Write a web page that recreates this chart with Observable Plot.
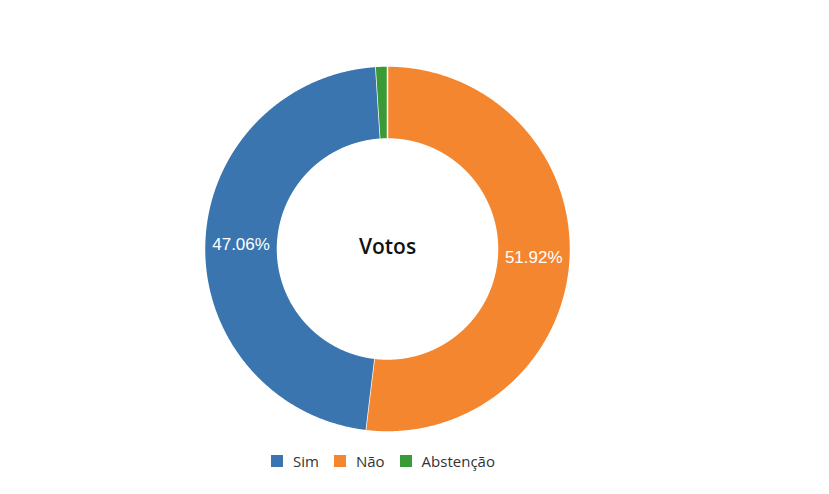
<!DOCTYPE html>
<html>
<head>
<meta charset="utf-8">
<script src="https://cdn.jsdelivr.net/npm/d3@7"></script>
<script src="https://cdn.jsdelivr.net/npm/@observablehq/plot@0.6"></script>
<style>
  body { margin: 0; background: #fff; font-family: "Open Sans", sans-serif; }
  #legend { width: 766px; height: 26px; display: flex; justify-content: center; align-items: center; font-size: 15px; color: #333; }
  .item { display: flex; align-items: center; margin: 0 7.5px; }
  .sw { width: 12px; height: 12px; margin-right: 10px; }
</style>
</head>
<body>
<div id="chart"></div>
<div id="legend"></div>
<script>
// Data
const categories = ["Sim", "Não", "Abstenção"];
const values = [47.06, 51.92, 1.02];
const colors = ["#3a75b0", "#f4862f", "#3a9a35"];
const sliceOrder = ["Não", "Sim", "Abstenção"]; // clockwise from 12 o'clock
const centerTitle = "Votos";

// Layout
const W = 829, H = 448;
const cx = 387, cy = 248.5, R = 183, r = 110;

const rows = sliceOrder.map(k => ({key: k, value: values[categories.indexOf(k)]}));
const arcs = d3.pie().sort(null).value(d => d.value)(rows);

const pts = [];
for (const a of arcs) {
  const n = Math.max(2, Math.ceil((a.endAngle - a.startAngle) / 0.005));
  for (let i = 0; i <= n; i++) {
    const t = a.startAngle + (a.endAngle - a.startAngle) * i / n;
    pts.push({key: a.data.key, x: cx + R * Math.sin(t), y: cy - R * Math.cos(t)});
  }
  for (let i = n; i >= 0; i--) {
    const t = a.startAngle + (a.endAngle - a.startAngle) * i / n;
    pts.push({key: a.data.key, x: cx + r * Math.sin(t), y: cy - r * Math.cos(t)});
  }
}

const labels = arcs.filter(a => a.data.value > 5).map(a => {
  const m = (a.startAngle + a.endAngle) / 2, rr = (R + r) / 2;
  return {x: cx + rr * Math.sin(m), y: cy - rr * Math.cos(m), text: a.data.value.toFixed(2) + "%"};
});

const chart = Plot.plot({
  width: W, height: H,
  margin: 0,
  x: {domain: [0, W], range: [0, W], axis: null},
  y: {domain: [0, H], range: [0, H], axis: null},
  color: {domain: categories, range: colors},
  marks: [
    Plot.line(pts, {x: "x", y: "y", z: "key", fill: "key", stroke: "white", strokeWidth: 1.5, strokeLinejoin: "round"}),
    Plot.text(labels, {x: "x", y: "y", text: "text", fill: "white", fontSize: 17, fontFamily: "Liberation Sans, Arial, sans-serif"}),
    Plot.text([centerTitle], {x: [cx], y: [cy - 2], text: d => d, fill: "#111", fontSize: 21, fontWeight: 600, fontFamily: "Open Sans, sans-serif"})
  ]
});
document.getElementById("chart").append(chart);

const legend = document.getElementById("legend");
categories.forEach((c, i) => {
  const item = document.createElement("div");
  item.className = "item";
  const sw = document.createElement("span");
  sw.className = "sw";
  sw.style.background = colors[i];
  const tx = document.createElement("span");
  tx.textContent = c;
  item.append(sw, tx);
  legend.append(item);
});
</script>
</body>
</html>
